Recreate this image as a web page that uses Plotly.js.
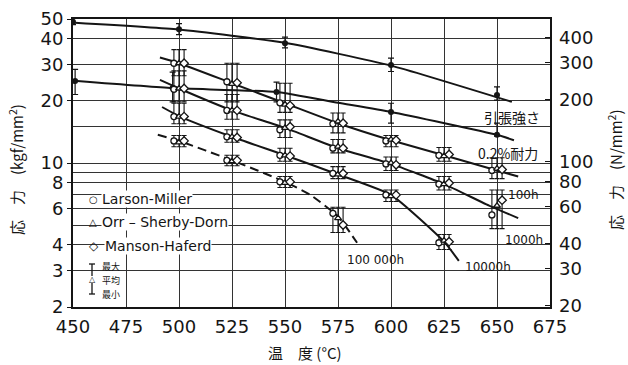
<!DOCTYPE html>
<html><head><meta charset="utf-8">
<script src="https://cdn.plot.ly/plotly-3.0.1.min.js"></script>
<style>body{margin:0;background:#fff}</style>
</head><body><div id="chart" style="width:628px;height:365px"></div>
<script>
// ---- axes ----
const tempTicks = [450,475,500,525,550,575,600,625,650,675];
const leftTicks = [2,3,4,6,8,10,20,30,40,50];
const leftMinorGrid = [5,7,9,15];
const rightTicks = [20,30,40,60,80,100,200,300,400];
const KGF_TO_N = 9.80665;

// ---- tensile strength (引張強さ) ----
const tsTemp = [450,500,550,600,650];
const tsMean = [48.5,44.6,38.1,29.9,21.4];
const tsMax  = [50.5,47.5,40.8,32.3,23.4];
const tsMin  = [47.0,42.0,36.2,27.8,20.2];
const tsCurveT = [451,500,550,600,657];
const tsCurveV = [48.0,44.5,38.3,29.7,19.8];

// ---- 0.2% proof stress (0.2%耐力) ----
const psTemp = [451,497,546,600,650];
const psMean = [25.0,23.1,22.1,17.7,13.7];
const psMax  = [28.5,27.6,24.7,19.5,15.6];
const psMin  = [21.5,19.8,19.8,15.6,13.5];
const psCurveT = [452,497,546,575,600,650,658];
const psCurveV = [25.0,23.1,22.1,19.6,17.7,13.7,12.9];

// ---- creep rupture strength curves ----
const c100T = [491,500,525,550,575,600,625,650,660];
const c100V = [32.5,30.5,24.4,19.5,15.6,12.9,10.9,9.2,8.6];
const c1000T = [491,500,525,550,575,600,625,645,660];
const c1000V = [25.3,23.0,18.0,14.8,11.8,9.9,7.9,6.3,5.4];
const c10000T = [492,500,525,550,575,600,625,632];
const c10000V = [18.7,16.9,13.4,10.9,8.8,7.0,4.15,3.35];
const c100000T = [490,500,525,550,562,575,584];
const c100000V = [13.7,12.8,10.3,8.1,7.0,5.5,4.1];

// ---- creep points: Larson-Miller / Orr-Sherby-Dorn / Manson-Haferd ----
const p100T   = [500,525,550,575,600,625,650];
const p100LM  = [30.5,24.8,19.6,15.5,12.8,10.9,9.2];
const p100OSD = [30.5,24.2,19.2,15.9,13.0,10.8,9.4];
const p100MH  = [30.5,24.5,19.0,15.6,12.9,11.0,9.3];
const p100Max = [35.5,30.5,24.4,17.5,13.6,11.9,10.6];
const p100Min = [26.5,19.8,17.6,14.0,12.0,10.2,8.4];

const p1000T   = [500,525,550,575,600,625,650];
const p1000LM  = [22.8,18.0,14.5,11.8,9.9,7.9,5.6];
const p1000OSD = [23.0,18.0,14.8,12.0,10.0,7.9,6.2];
const p1000MH  = [23.0,18.0,15.0,11.8,9.8,8.0,6.6];
const p1000Max = [28.0,21.5,16.2,13.0,10.7,8.6,7.4];
const p1000Min = [19.8,16.3,13.3,11.2,9.2,7.4,4.8];

const p10000T   = [500,525,550,575,600,625];
const p10000LM  = [16.8,13.4,10.9,8.9,7.0,4.1];
const p10000OSD = [16.8,13.4,10.9,8.8,6.9,4.2];
const p10000MH  = [16.8,13.3,10.8,8.9,7.0,4.15];
const p10000Max = [19.5,14.5,11.8,9.6,7.4,4.5];
const p10000Min = [15.5,12.6,10.2,8.4,6.5,3.8];

const p100000T   = [500,525,550,575];
const p100000LM  = [12.8,10.3,8.1,5.7];
const p100000OSD = [12.6,10.2,8.0,5.4];
const p100000MH  = [12.8,10.3,8.1,5.0];
const p100000Max = [13.6,10.9,8.6,6.1];
const p100000Min = [12.0,9.7,7.6,4.6];

const methodNames = ['Larson-Miller','Orr-Sherby-Dorn','Manson-Haferd'];
const curveLabels = ['100h','1000h','10000h','100 000h'];
const barLegend = ['最大','平均','最小'];

// ---------------------------------------------------------------
const INK = '#151515';
const traces = [];
function curve(T, V, dash){
  traces.push({x:T, y:V, mode:'lines', line:{color:INK, width:2, shape:'spline', smoothing:0.5, dash:dash||'solid'}, hoverinfo:'skip', showlegend:false});
}
curve(tsCurveT, tsCurveV);
curve(psCurveT, psCurveV);
curve(c100T, c100V);
curve(c1000T, c1000V);
curve(c10000T, c10000V);
curve(c100000T, c100000V, '9px,5px');

function dots(T, M, hi, lo){
  traces.push({x:T, y:M, mode:'markers', marker:{symbol:'circle', size:6, color:INK},
    error_y:{type:'data', symmetric:false, array:hi.map((h,i)=>h-M[i]), arrayminus:lo.map((l,i)=>M[i]-l), color:INK, thickness:1.2, width:3},
    showlegend:false});
}
dots(tsTemp, tsMean, tsMax, tsMin);
dots(psTemp, psMean, psMax, psMin);

const symbols = ['circle','triangle-up','diamond'];
const offsets = [-2.4, 0, 2.4];
const groups = [
  [p100T, [p100LM,p100OSD,p100MH], p100Max, p100Min],
  [p1000T, [p1000LM,p1000OSD,p1000MH], p1000Max, p1000Min],
  [p10000T, [p10000LM,p10000OSD,p10000MH], p10000Max, p10000Min],
  [p100000T, [p100000LM,p100000OSD,p100000MH], p100000Max, p100000Min]
];
groups.forEach((g, gi)=>{
  const [T, ms, hi, lo] = g;
  ms.forEach((M, mi)=>{
    traces.push({x:T.map(t=>t+offsets[mi]), y:M, mode:'markers', name:methodNames[mi]+' '+curveLabels[gi],
      marker:{symbol:symbols[mi], size:mi===2?6.5:6, color:'#fff', line:{color:INK, width:1.3}},
      error_y:{type:'data', symmetric:false, array:hi.map((h,i)=>Math.max(h-M[i],0)), arrayminus:lo.map((l,i)=>Math.max(M[i]-l,0)), color:INK, thickness:1.1, width:2.5},
      showlegend:false});
  });
});

// dummy trace to activate yaxis2
traces.push({x:[450], y:[100], yaxis:'y2', mode:'markers', marker:{opacity:0}, hoverinfo:'skip', showlegend:false});

// ---------------------------------------------------------------
const L=73, R=550, T0=19, B=307;
function P(px, py){ return {x:(px-L)/(R-L), y:(B-py)/(B-T0), xref:'paper', yref:'paper'}; }
const jp = '"Noto Sans CJK JP", sans-serif';
const lat = '"DejaVu Sans", sans-serif';
function ann(px, py, text, opts){
  return Object.assign(P(px,py), {text:text, showarrow:false, xanchor:'center', yanchor:'middle', borderpad:0,
    font:{family:lat, size:12, color:INK}}, opts||{});
}
const annotations = [
  ann(305, 352, '温　度 (°C)', {font:{family:jp, size:15, color:INK}}),
  ann(16, 170, '応　力　(kgf/mm<sup>2</sup>)', {textangle:-90, font:{family:jp, size:15, color:INK}}),
  ann(615, 170, '応　力　(N/mm<sup>2</sup>)', {textangle:-90, font:{family:jp, size:15, color:INK}}),
  ann(512, 117, '引張強さ', {font:{family:jp, size:14, color:INK}}),
  ann(508, 153, '0.2%耐力', {font:{family:jp, size:14, color:INK}}),
  ann(523, 195, curveLabels[0], {font:{family:lat, size:12, color:INK}}),
  ann(524, 240, curveLabels[1], {font:{family:lat, size:12, color:INK}}),
  ann(488, 267, curveLabels[2], {font:{family:lat, size:12, color:INK}}),
  ann(375, 260, curveLabels[3], {font:{family:lat, size:12, color:INK}}),
  // legend
  ann(93, 199, '○', {font:{family:lat, size:10, color:INK}}),
  ann(93, 222, '△', {font:{family:lat, size:10, color:INK}}),
  ann(94, 246, '◇', {font:{family:lat, size:12, color:INK}}),
  ann(101, 199, methodNames[0], {xanchor:'left', bgcolor:'#fff', font:{family:lat, size:14, color:INK}}),
  ann(101, 222, methodNames[1].replace('Orr-','Orr – '), {xanchor:'left', bgcolor:'#fff', font:{family:lat, size:14, color:INK}}),
  ann(104, 246, methodNames[2], {xanchor:'left', bgcolor:'#fff', font:{family:lat, size:14, color:INK}}),
  ann(92, 279, '△', {font:{family:lat, size:8, color:INK}}),
  ann(101, 266, barLegend[0], {xanchor:'left', font:{family:jp, size:9, color:INK}}),
  ann(101, 280, barLegend[1], {xanchor:'left', font:{family:jp, size:9, color:INK}}),
  ann(101, 294, barLegend[2], {xanchor:'left', font:{family:jp, size:9, color:INK}})
];
function seg(x0,y0,x1,y1){ const a=P(x0,y0), b=P(x1,y1); return {type:'line', xref:'paper', yref:'paper', x0:a.x, y0:a.y, x1:b.x, y1:b.y, line:{color:INK, width:1.3}}; }
const shapes = [ seg(92,264,92,276), seg(92,283,92,294), seg(89,264,95,264), seg(89,294,95,294) ];

const layout = {
  width:628, height:365,
  margin:{l:L, r:628-R, t:T0, b:365-B},
  paper_bgcolor:'#fff', plot_bgcolor:'#fff',
  showlegend:false,
  font:{family:lat, color:INK},
  xaxis:{range:[450,675], tickvals:tempTicks, ticktext:tempTicks.map(String), ticks:'', showgrid:true, gridcolor:'#333', gridwidth:1,
    showline:true, linecolor:INK, linewidth:2, mirror:true, zeroline:false, ticklabelstandoff:2, tickfont:{family:lat, size:18, color:INK}},
  yaxis:{type:'log', range:[Math.log10(2), Math.log10(50)], tickvals:leftTicks, ticktext:leftTicks.map(String),
    ticks:'outside', ticklen:4, tickcolor:INK, showgrid:true, gridcolor:'#333', gridwidth:1,
    minor:{tickmode:'array', tickvals:leftMinorGrid, showgrid:true, gridcolor:'#333', gridwidth:1, ticks:''},
    showline:true, linecolor:INK, linewidth:2, mirror:true, zeroline:false, tickfont:{family:lat, size:18, color:INK}},
  yaxis2:{type:'log', overlaying:'y', side:'right', range:[Math.log10(2*KGF_TO_N), Math.log10(50*KGF_TO_N)],
    tickvals:rightTicks, ticktext:rightTicks.map(String), ticks:'inside', ticklen:5, tickcolor:INK,
    ticklabelstandoff:8, showgrid:false, showline:false, zeroline:false, tickfont:{family:lat, size:18, color:INK}},
  annotations:annotations, shapes:shapes
};
Plotly.newPlot('chart', traces, layout, {staticPlot:true, displayModeBar:false});
</script></body></html>
